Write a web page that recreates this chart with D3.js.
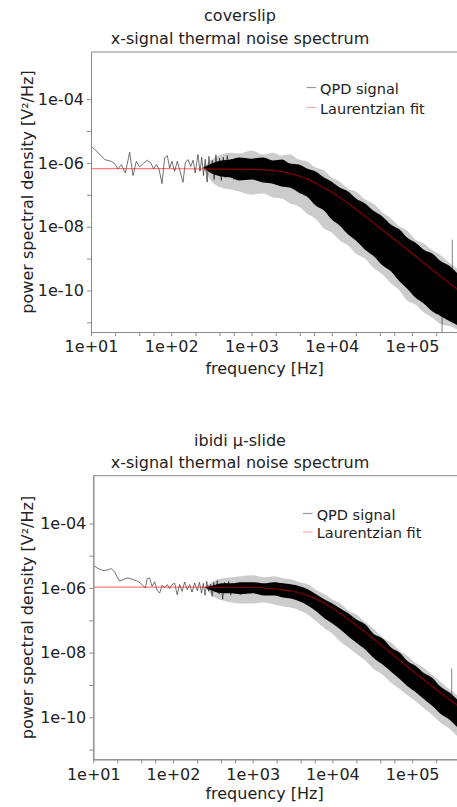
<!DOCTYPE html>
<html><head><meta charset="utf-8">
<script src="https://cdn.jsdelivr.net/npm/d3@7"></script>
<style>
body{margin:0;background:#fff;}
svg text{font-family:"DejaVu Sans",sans-serif;}
</style></head><body>
<svg id="chart" width="457" height="807"></svg>
<script>
// ---------- data ----------
const xTicksMajor = [10, 100, 1000, 10000, 100000];
const xTicksMinor = [20, 40, 60, 200, 400, 600, 2000, 4000, 6000, 20000, 40000, 60000, 200000, 400000];
const yTicksMajor = [1e-4, 1e-6, 1e-8, 1e-10];
const yTicksMinor = [1e-5, 1e-7, 1e-9, 1e-11];
const xDomain = [10, 4e5];
const yDomain = [5e-12, 3e-3];
const legendLabels = ["QPD signal", "Laurentzian fit"];
const xTitle = "frequency [Hz]";
const yTitle = "power spectral density [V\u00B2/Hz]";

// frequencies at which the dense noise band envelope was read
const bandFreq = [250, 320, 420, 550, 700, 1000, 1400, 1850, 2400, 3000, 3900, 4900, 6300, 8000, 10000, 12600, 16000, 20000, 26000, 32700, 43000, 55000, 70000, 86700, 110000, 140000, 180000, 223000, 300000, 400000];
const fitFreq = [10, 100, 1000, 2000, 3000, 5000, 7000, 10000, 20000, 50000, 100000, 200000, 400000];

// coverslip
const topTitle = ["coverslip", "x-signal thermal noise spectrum"];
const topLowFreq = [10.1, 12.2, 14.8, 17.9, 19.7, 21.7, 23.9, 26.8, 30.3, 33.4, 36.7, 40.4, 44.5, 50.4, 55.5, 60.4, 65.2, 70.3, 76.7, 82.8, 89.3, 95.5, 102, 110, 119, 127, 140, 150, 162, 175, 187, 199, 215, 228, 240, 252, 265, 280, 295, 310, 325, 342, 360, 380, 400, 420, 445, 470, 500, 530, 560, 600];
const topLowPsd = [3.31e-6, 2.15e-6, 1.27e-6, 1.12e-6, 9.51e-7, 6.48e-7, 8.85e-7, 4.86e-7, 2.15e-6, 4.00e-7, 1.12e-6, 7.50e-7, 9.51e-7, 1.21e-6, 1.0e-6, 6.48e-7, 8.85e-7, 6.48e-7, 2.24e-7, 1.44e-6, 1.70e-6, 6.97e-7, 1.12e-6, 5.46e-7, 1.12e-6, 6.17e-7, 2.47e-7, 1.04e-6, 1.27e-6, 7.82e-7, 1.21e-6, 4.86e-7, 1.82e-6, 5.5e-7, 1.5e-6, 4.0e-7, 1.3e-6, 2.5e-7, 1.6e-6, 5.0e-7, 1.2e-6, 3.0e-7, 1.8e-6, 4.5e-7, 1.4e-6, 2.8e-7, 1.5e-6, 3.5e-7, 1.7e-6, 4.0e-7, 1.3e-6, 3.0e-7];
const topBandOuterHi = [7.12e-7, 1.27e-6, 1.82e-6, 2.10e-6, 1.96e-6, 2.43e-6, 1.82e-6, 2.10e-6, 1.69e-6, 1.82e-6, 1.27e-6, 1.10e-6, 7.12e-7, 5.74e-7, 3.46e-7, 2.59e-7, 1.56e-7, 1.26e-7, 7.07e-8, 5.30e-8, 2.77e-8, 1.79e-8, 1.01e-8, 7.54e-9, 3.94e-9, 2.95e-9, 1.78e-9, 1.33e-9, 6.97e-10, 4.20e-10];
const topBandInnerHi = [7.12e-7, 9.51e-7, 1.18e-6, 1.27e-6, 1.47e-6, 1.36e-6, 1.47e-6, 1.18e-6, 1.27e-6, 9.51e-7, 8.85e-7, 6.63e-7, 5.34e-7, 3.46e-7, 2.59e-7, 1.68e-7, 1.26e-7, 7.60e-8, 5.30e-8, 3.20e-8, 2.07e-8, 1.16e-8, 8.11e-9, 4.55e-9, 3.17e-9, 1.91e-9, 1.43e-9, 8.66e-10, 5.61e-10, 2.73e-10];
const topBandInnerLo = [7.12e-7, 4.62e-7, 3.72e-7, 3.46e-7, 2.79e-7, 3.00e-7, 2.41e-7, 2.24e-7, 1.81e-7, 1.68e-7, 1.17e-7, 8.78e-8, 4.59e-8, 3.20e-8, 1.67e-8, 1.08e-8, 5.65e-9, 3.67e-9, 1.91e-9, 1.24e-9, 6.03e-10, 3.91e-10, 1.90e-10, 1.15e-10, 5.99e-11, 3.88e-11, 2.18e-11, 1.63e-11, 1.06e-11, 7.38e-12];
const topBandOuterLo = [7.12e-7, 2.59e-7, 1.68e-7, 1.46e-7, 1.26e-7, 1.01e-7, 1.09e-7, 8.17e-8, 7.60e-8, 5.30e-8, 4.27e-8, 2.57e-8, 1.79e-8, 8.72e-9, 6.53e-9, 3.67e-9, 2.56e-9, 1.43e-9, 1.00e-9, 5.22e-10, 3.15e-10, 1.65e-10, 9.93e-11, 4.82e-11, 3.61e-11, 2.03e-11, 1.41e-11, 9.17e-12, 7.38e-12, 5.53e-12];
const topFitPsd = [6.6e-7, 6.6e-7, 6.3e-7, 5.6e-7, 4.7e-7, 3.1e-7, 2.0e-7, 1.2e-7, 3.5e-8, 5.8e-9, 1.45e-9, 3.6e-10, 9.1e-11];
const topSpikeFreq = [318000, 237000];
const topSpikeFrom = [3.0e-10, 1.0e-10];
const topSpikePsd = [3.94e-9, 4e-12];

// ibidi
const botTitle = ["ibidi \u03BC-slide", "x-signal thermal noise spectrum"];
const botLowFreq = [10.0, 11.5, 13.2, 15.3, 16.8, 18.5, 21.4, 23.6, 27.2, 31.5, 36.4, 40.8, 44.9, 47.6, 51.0, 54.5, 58.9, 63.5, 68.1, 72.8, 78.7, 84.8, 90.9, 97.1, 105, 113, 121, 130, 140, 151, 162, 173, 187, 202, 215, 228, 240, 252, 265, 280, 295, 310, 325, 342, 360, 380, 400, 420, 445, 470, 500, 530, 560, 600];
const botLowPsd = [5.09e-6, 4.02e-6, 3.48e-6, 3.64e-6, 4.02e-6, 3.15e-6, 1.62e-6, 1.83e-6, 2.05e-6, 1.83e-6, 1.62e-6, 1.28e-6, 1.0e-6, 1.96e-6, 2.05e-6, 1.13e-6, 1.54e-6, 8.3e-7, 6.98e-7, 1.21e-6, 1.05e-6, 1.28e-6, 9.6e-7, 1.28e-6, 1.40e-6, 6.2e-7, 1.28e-6, 7.9e-7, 1.54e-6, 8.9e-7, 1.28e-6, 7.5e-7, 1.43e-6, 8.3e-7, 1.5e-6, 7.0e-7, 1.4e-6, 6.0e-7, 1.6e-6, 8.0e-7, 1.3e-6, 5.5e-7, 1.5e-6, 7.5e-7, 1.7e-6, 6.5e-7, 1.35e-6, 4.5e-7, 1.5e-6, 7.0e-7, 1.6e-6, 6.0e-7, 1.4e-6, 7.0e-7];
const botBandOuterHi = [1.05e-6, 1.62e-6, 2.00e-6, 2.15e-6, 2.31e-6, 2.49e-6, 2.15e-6, 2.31e-6, 2.00e-6, 1.87e-6, 1.51e-6, 1.30e-6, 8.48e-7, 6.36e-7, 4.45e-7, 3.34e-7, 2.02e-7, 1.52e-7, 8.54e-8, 5.55e-8, 2.91e-8, 2.03e-8, 1.15e-8, 8.00e-9, 4.85e-9, 3.39e-9, 2.05e-9, 1.33e-9, 6.98e-10, 4.23e-10];
const botBandInnerHi = [1.05e-6, 1.21e-6, 1.40e-6, 1.40e-6, 1.51e-6, 1.51e-6, 1.40e-6, 1.51e-6, 1.40e-6, 1.30e-6, 1.13e-6, 9.11e-7, 6.36e-7, 4.45e-7, 3.34e-7, 2.33e-7, 1.63e-7, 1.06e-7, 7.40e-8, 3.88e-8, 2.71e-8, 1.42e-8, 9.93e-9, 5.59e-9, 3.91e-9, 2.36e-9, 1.65e-9, 9.30e-10, 5.63e-10, 2.95e-10];
const botBandInnerLo = [1.05e-6, 7.89e-7, 6.84e-7, 6.84e-7, 6.36e-7, 6.84e-7, 5.92e-7, 5.92e-7, 5.13e-7, 4.78e-7, 3.85e-7, 2.89e-7, 1.88e-7, 1.14e-7, 7.95e-8, 5.17e-8, 3.13e-8, 2.03e-8, 1.23e-8, 6.94e-9, 4.20e-9, 2.54e-9, 1.54e-9, 9.30e-10, 6.05e-10, 3.66e-10, 2.22e-10, 1.34e-10, 8.12e-11, 3.96e-11];
const botBandOuterLo = [1.05e-6, 5.51e-7, 4.14e-7, 3.58e-7, 3.34e-7, 3.34e-7, 3.58e-7, 3.11e-7, 2.69e-7, 2.51e-7, 2.02e-7, 1.52e-7, 9.18e-8, 5.55e-8, 3.88e-8, 2.19e-8, 1.42e-8, 9.24e-9, 5.59e-9, 3.15e-9, 2.05e-9, 1.15e-9, 7.50e-10, 4.88e-10, 3.17e-10, 1.92e-10, 1.16e-10, 7.04e-11, 4.26e-11, 2.08e-11];
const botFitPsd = [1.07e-6, 1.07e-6, 1.04e-6, 9.3e-7, 8.1e-7, 5.8e-7, 4.0e-7, 2.4e-7, 7.0e-8, 1.15e-8, 2.8e-9, 7.4e-10, 2.0e-10];
const botSpikeFreq = [314000];
const botSpikeFrom = [4.0e-10];
const botSpikePsd = [3.22e-9];

// ---------- layout ----------
const panels = [
  { title: topTitle, titleY: [20.5, 44], x0: 91, dec: 80.25, yTop: 52, yBot: 332, xlabY: 374, yLabX: 33,
    leg: { dx0: 306.5, dx1: 316, tx: 320, y: [93.5, 113.5] },
    low: [topLowFreq, topLowPsd], band: [bandFreq, topBandOuterHi, topBandInnerHi, topBandInnerLo, topBandOuterLo],
    fit: [fitFreq, topFitPsd], spike: [topSpikeFreq, topSpikeFrom, topSpikePsd] },
  { title: botTitle, titleY: [446, 468], x0: 93.3, dec: 79.7, yTop: 475.7, yBot: 759.3, xlabY: 799, yLabX: 33,
    leg: { dx0: 303, dx1: 312.5, tx: 316.7, y: [519.5, 538] },
    low: [botLowFreq, botLowPsd], band: [bandFreq, botBandOuterHi, botBandInnerHi, botBandInnerLo, botBandOuterLo],
    fit: [fitFreq, botFitPsd], spike: [botSpikeFreq, botSpikeFrom, botSpikePsd] }
];

const svg = d3.select("#chart");
const axisColor = "#8a8a8a", textColor = "#222";
const fmtExp = v => { const n = Math.round(Math.log10(v)); return "1e" + (n < 0 ? "-" : "+") + String(Math.abs(n)).padStart(2, "0"); };

panels.forEach((p, i) => {
  const x1 = p.x0 + p.dec * Math.log10(xDomain[1] / xDomain[0]);
  const x = d3.scaleLog().domain(xDomain).range([p.x0, x1]);
  const y = d3.scaleLog().domain(yDomain).range([p.yBot, p.yTop]);
  const g = svg.append("g");

  const clipId = "clip" + i;
  svg.append("clipPath").attr("id", clipId).append("rect")
    .attr("x", p.x0).attr("y", p.yTop).attr("width", x1 - p.x0).attr("height", p.yBot - p.yTop);
  const plot = g.append("g").attr("clip-path", `url(#${clipId})`);

  const line = d3.line().x(d => x(d.f)).y(d => y(d.v));

  // low-frequency trace
  const lowPts = p.low[0].map((f, k) => ({ f, v: p.low[1][k] }));
  plot.append("path").attr("d", line(lowPts)).attr("fill", "none")
    .attr("stroke", "#000").attr("stroke-opacity", 0.55).attr("stroke-width", 1);

  // dense band
  const [bf, oh, ih, il, ol] = p.band;
  const bandOuter = bf.map((f, k) => ({ f, hi: oh[k], lo: ol[k] }));
  const bandInner = bf.map((f, k) => ({ f, hi: ih[k], lo: il[k] }));
  const area = d3.area().x(d => x(d.f)).y0(d => y(d.lo)).y1(d => y(d.hi)).curve(d3.curveMonotoneX);
  plot.append("path").attr("d", area(bandOuter)).attr("fill", "#000").attr("fill-opacity", 0.2);
  plot.append("path").attr("d", area(bandInner)).attr("fill", "#000");

  // spikes
  p.spike[0].forEach((f, k) => {
    plot.append("line").attr("x1", x(f)).attr("x2", x(f))
      .attr("y1", y(p.spike[1][k])).attr("y2", y(p.spike[2][k]))
      .attr("stroke", "#000").attr("stroke-opacity", 0.5).attr("stroke-width", 1);
  });

  // fit
  const fitPts = p.fit[0].map((f, k) => ({ f, v: p.fit[1][k] }));
  plot.append("path").attr("d", d3.line().x(d => x(d.f)).y(d => y(d.v)).curve(d3.curveMonotoneX)(fitPts))
    .attr("fill", "none").attr("stroke", "#ff0000").attr("stroke-opacity", 0.5).attr("stroke-width", 1.2);

  // axes
  const styleAxis = sel => {
    sel.selectAll("path.domain").attr("stroke", axisColor);
    sel.selectAll(".tick line").attr("stroke", axisColor);
    sel.selectAll("text").attr("fill", textColor).style("font-size", "16px").style("font-family", "DejaVu Sans");
  };
  g.append("g").attr("transform", `translate(0,${p.yBot})`)
    .call(d3.axisBottom(x).tickValues(xTicksMinor).tickFormat("").tickSize(4).tickSizeOuter(0)).call(styleAxis);
  g.append("g").attr("transform", `translate(0,${p.yBot})`)
    .call(d3.axisBottom(x).tickValues(xTicksMajor).tickFormat(fmtExp).tickSize(4).tickPadding(5).tickSizeOuter(0)).call(styleAxis);
  g.append("g").attr("transform", `translate(${p.x0},0)`)
    .call(d3.axisLeft(y).tickValues(yTicksMinor).tickFormat("").tickSize(4).tickSizeOuter(0)).call(styleAxis);
  g.append("g").attr("transform", `translate(${p.x0},0)`)
    .call(d3.axisLeft(y).tickValues(yTicksMajor).tickFormat(fmtExp).tickSize(4).tickPadding(3).tickSizeOuter(0)).call(styleAxis);
  g.append("line").attr("x1", p.x0).attr("x2", x1).attr("y1", p.yTop).attr("y2", p.yTop).attr("stroke", axisColor);

  // titles
  p.title.forEach((t, k) => g.append("text").attr("x", 240).attr("y", p.titleY[k])
    .attr("text-anchor", "middle").attr("fill", textColor).style("font-size", "16px").text(t));
  g.append("text").attr("x", 264.5).attr("y", p.xlabY).attr("text-anchor", "middle")
    .attr("fill", textColor).style("font-size", "16px").text(xTitle);
  g.append("text").attr("transform", `translate(${p.yLabX},${(p.yTop + p.yBot) / 2}) rotate(-90)`)
    .attr("text-anchor", "middle").attr("fill", textColor).style("font-size", "16px").text(yTitle);

  // legend
  const legColors = [["#000", 0.4], ["#ff0000", 0.35]];
  legendLabels.forEach((lab, k) => {
    const ly = p.leg.y[k];
    g.append("line").attr("x1", p.leg.dx0).attr("x2", p.leg.dx1).attr("y1", ly - 6).attr("y2", ly - 6)
      .attr("stroke", legColors[k][0]).attr("stroke-opacity", legColors[k][1]).attr("stroke-width", 1.2);
    g.append("text").attr("x", p.leg.tx).attr("y", ly).attr("fill", textColor)
      .style("font-size", "14.5px").text(lab);
  });
});
</script></body></html>
